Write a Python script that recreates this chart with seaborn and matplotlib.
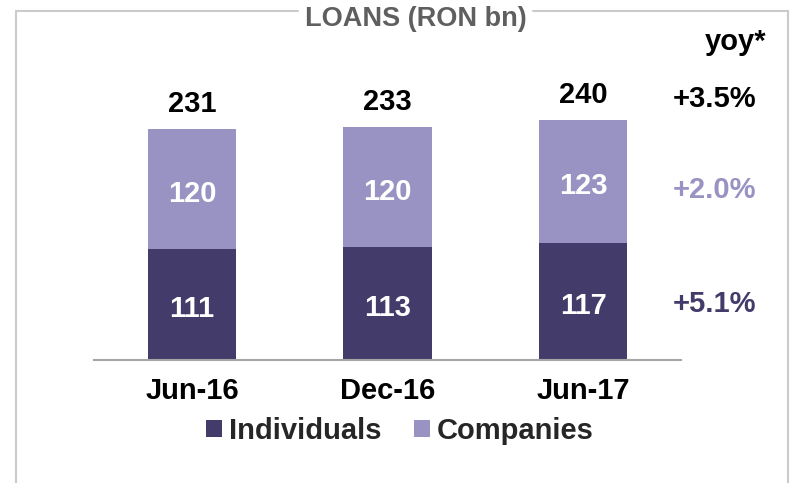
import matplotlib
matplotlib.use("Agg")
import matplotlib.pyplot as plt
import seaborn as sns
import pandas as pd
from matplotlib.lines import Line2D
from matplotlib.patches import Patch

# ---- data ----
periods = ["Jun-16", "Dec-16", "Jun-17"]
individuals = [111, 113, 117]
companies = [120, 120, 123]
totals = [231, 233, 240]
yoy_total = "+3.5%"
yoy_companies = "+2.0%"
yoy_individuals = "+5.1%"
title = "LOANS (RON bn)"
series_names = ["Individuals", "Companies"]

DARK = "#433c6b"
LIGHT = "#9893c3"
BORDER = "#cbcbcb"

sns.set_theme(style="white")
plt.rcParams["font.family"] = ["Liberation Sans", "DejaVu Sans"]
plt.rcParams["font.weight"] = "bold"

W, H = 790, 483
fig = plt.figure(figsize=(W / 100, H / 100), dpi=100)
ax = fig.add_axes([94.25 / W, 123 / H, 586.5 / W, 250 / H])

df = pd.DataFrame({"period": periods, "individuals": individuals,
                   "companies": companies, "total": [i + c for i, c in zip(individuals, companies)]})

sns.barplot(data=df, x="period", y="total", color=LIGHT, width=0.455,
            saturation=1, ax=ax, linewidth=0)
sns.barplot(data=df, x="period", y="individuals", color=DARK, width=0.455,
            saturation=1, ax=ax, linewidth=0)

ax.set_xlim(-0.5, 2.5)
ax.set_ylim(0, 250)
ax.set_xlabel("")
ax.set_ylabel("")
ax.set_yticks([])
for s in ["top", "left", "right"]:
    ax.spines[s].set_visible(False)
ax.spines["bottom"].set_color("#a6a6a6")
ax.spines["bottom"].set_linewidth(1.5)
ax.tick_params(axis="x", length=0, pad=12, labelsize=21, colors="black")
for t in ax.get_xticklabels():
    t.set_fontweight("bold")

fs = 21
for i in range(len(periods)):
    ind = individuals[i]
    com = companies[i]
    tot = totals[i]
    ax.annotate(str(tot), (i, ind + com), xytext=(0, 12), textcoords="offset points",
                ha="center", va="baseline", fontsize=fs, fontweight="bold", color="black")
    ax.annotate(str(com), (i, ind + com / 2), xytext=(0, -9), textcoords="offset points",
                ha="center", va="baseline", fontsize=fs, fontweight="bold", color="white")
    ax.annotate(str(ind), (i, ind / 2), xytext=(0, -9), textcoords="offset points",
                ha="center", va="baseline", fontsize=fs, fontweight="bold", color="white")

# yoy column
xy = 2.675
last = len(periods) - 1
ax.annotate(yoy_total, (xy, individuals[last] + companies[last]), xytext=(0, 9.7),
            textcoords="offset points", ha="center", va="baseline", fontsize=fs,
            fontweight="bold", color="black", annotation_clip=False)
ax.annotate(yoy_companies, (xy, individuals[last] + companies[last] / 2), xytext=(0, -12.2),
            textcoords="offset points", ha="center", va="baseline", fontsize=fs,
            fontweight="bold", color=LIGHT, annotation_clip=False)
ax.annotate(yoy_individuals, (xy, individuals[last] / 2), xytext=(0, -7.6),
            textcoords="offset points", ha="center", va="baseline", fontsize=fs,
            fontweight="bold", color=DARK, annotation_clip=False)

fig.text(766 / W, 1 - 50 / H, "yoy*", ha="right", va="baseline", fontsize=fs,
         fontweight="bold", color="black")

# title and frame
fig.text(416 / W, 1 - 25.7 / H, title, ha="center", va="baseline", fontsize=19.5,
         fontweight="bold", color="#5f5f5f")
ytop = 1 - 11 / H
xl, xr = 16 / W, 788 / W
frame_kw = dict(color=BORDER, linewidth=1.5, transform=fig.transFigure)
fig.add_artist(Line2D([xl, 298 / W], [ytop, ytop], **frame_kw))
fig.add_artist(Line2D([533 / W, xr], [ytop, ytop], **frame_kw))
fig.add_artist(Line2D([xl, xl], [ytop, 0], **frame_kw))
fig.add_artist(Line2D([xr, xr], [ytop, 0], **frame_kw))

# legend
handles = [Patch(facecolor=DARK, edgecolor="none"), Patch(facecolor=LIGHT, edgecolor="none")]
leg = fig.legend(handles, series_names, loc="center", bbox_to_anchor=(400 / W, 52 / H),
                 ncol=2, frameon=False, prop={"size": fs, "weight": "bold"},
                 handlelength=0.55, handleheight=0.55, handletextpad=0.25,
                 columnspacing=1.1, borderpad=0)

fig.savefig("out.png", dpi=100)
